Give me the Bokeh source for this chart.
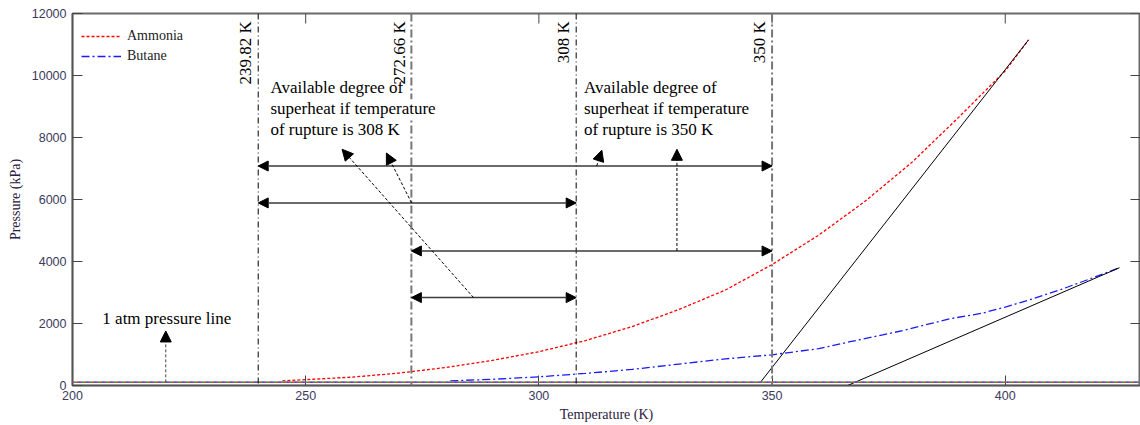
import math
from bokeh.plotting import figure
from bokeh.models import (Span, Label, Arrow, NormalHead, FixedTicker,
                          Range1d, Legend, LegendItem, ColumnDataSource)
from bokeh.embed import file_html
from bokeh.resources import INLINE

# Saturation pressure curves (Temperature K, Pressure kPa)
ammonia_T = [245, 250, 260, 270, 280, 290, 300, 310, 320, 330, 340, 350, 360, 370, 380, 390, 400, 405]
ammonia_P = [150, 190, 270, 400, 580, 810, 1090, 1450, 1900, 2450, 3080, 3900, 4850, 5950, 7200, 8650, 10150, 11150]

butane_T = [281, 290, 300, 310, 320, 330, 340, 350, 360, 367, 378, 388, 395, 400, 406, 412, 418, 424.5]
butane_P = [150, 200, 280, 390, 520, 690, 860, 990, 1190, 1420, 1770, 2150, 2330, 2530, 2800, 3100, 3430, 3800]

# Straight tangent lines near the critical points
tangent_ammonia_T = [347.5, 405.0]
tangent_ammonia_P = [101.325, 11150]
tangent_butane_T = [366.2, 424.5]
tangent_butane_P = [0, 3800]

# Boiling points and rupture temperatures
marker_T = [239.82, 272.66, 308, 350]
marker_labels = ["239.82 K", "272.66 K", "308 K", "350 K"]

# Superheat ranges (double-headed arrows)
range_start_T = [239.82, 239.82, 272.66, 272.66]
range_end_T = [350, 308, 350, 308]
range_P = [7080, 5890, 4340, 2835]

# Leader arrows from the ranges to the notes
leader_base_T = [286.0, 272.7, 312.4, 329.6]
leader_base_P = [2835, 5890, 7080, 4340]
leader_tip_T = [257.8, 267.3, 313.5, 329.6]
leader_tip_P = [7620, 7500, 7590, 7620]

ATM_KPA = 101.325
atm_arrow_T = 220
atm_arrow_tip_P = 1760

note_308 = ["Available degree of", "superheat if temperature", "of rupture is 308 K"]
note_350 = ["Available degree of", "superheat if temperature", "of rupture is 350 K"]
note_x = [242.44, 309.66]
note_line_P = [9603, 8926, 8248]
atm_note = "1 atm pressure line"
atm_note_x, atm_note_P = 206.4, 2161
marker_label_P = 11750
marker_label_gap = 0.6   # K, gap between a marker line and its rotated label

x_ticks = [200, 250, 300, 350, 400]
y_ticks = [0, 2000, 4000, 6000, 8000, 10000, 12000]
T_MIN, T_MAX = 200, 429
P_MIN, P_MAX = 0, 12000

SERIF = "Liberation Serif"
SANS = "Liberation Sans"
TICK_COLOR = "#3b3a5c"
AXIS_COLOR = "#555555"

p = figure(width=1140, height=425, x_range=Range1d(T_MIN, T_MAX), y_range=Range1d(P_MIN, P_MAX),
           output_backend="svg", toolbar_location=None,
           min_border_left=72, min_border_right=0, min_border_top=13, min_border_bottom=40,
           x_axis_label="Temperature (K)", y_axis_label="Pressure (kPa)")
p.outline_line_color = "#6a6a6a"
p.outline_line_width = 2
p.grid.visible = False
p.background_fill_color = "white"
p.border_fill_color = "white"

for ax, ticks in ((p.xaxis[0], x_ticks), (p.yaxis[0], y_ticks)):
    ax.ticker = FixedTicker(ticks=ticks)
    ax.major_tick_in = 10
    ax.major_tick_out = 0
    ax.minor_tick_in = 0
    ax.minor_tick_out = 0
    ax.major_tick_line_color = "#444444"
    ax.axis_line_color = AXIS_COLOR
    ax.axis_line_width = 1.5
    ax.major_label_text_font = SANS
    ax.major_label_text_font_size = "12.5px"
    ax.major_label_text_color = TICK_COLOR
    ax.axis_label_text_font = SERIF
    ax.axis_label_text_font_size = "14px"
    ax.axis_label_text_font_style = "normal"
    ax.axis_label_text_color = "#2a2040"

p.xaxis[0].major_label_standoff = 5
p.xaxis[0].axis_label_standoff = 4
p.yaxis[0].major_label_standoff = 6
p.yaxis[0].axis_label_standoff = 6

# Inward tick marks on the top and right edges of the frame
p.ray(x=x_ticks, y=[P_MAX] * len(x_ticks), length=10, angle=-math.pi / 2,
      length_units="screen", line_color="#444444", line_width=1)
p.ray(x=[T_MAX] * len(y_ticks), y=y_ticks, length=10, angle=math.pi,
      length_units="screen", line_color="#444444", line_width=1)

# 1 atm line drawn as a multicoloured dotted line
p.add_layout(Span(location=ATM_KPA, dimension="width", line_color="#22aa22", line_width=1.5))
for col, off in (("#dd22dd", 0), ("#2255ff", 2), ("#ff3333", 4)):
    p.add_layout(Span(location=ATM_KPA, dimension="width", line_color=col, line_width=1.5,
                      line_dash="2 6", line_dash_offset=off))

# Saturation curves
r_amm = p.line(ammonia_T, ammonia_P, line_color="#ff0000", line_width=1.3, line_dash="3 2")
r_but = p.line(butane_T, butane_P, line_color="#1a1aff", line_width=1.3, line_dash="8 3 2 3")
p.line(tangent_ammonia_T, tangent_ammonia_P, line_color="black", line_width=1)
p.line(tangent_butane_T, tangent_butane_P, line_color="black", line_width=1)

# Vertical temperature markers
for i, t in enumerate(marker_T):
    if i in (1, 3):
        p.add_layout(Span(location=t, dimension="height", line_color="#777777",
                          line_width=2, line_dash="8 3 2 3"))
    else:
        p.add_layout(Span(location=t, dimension="height", line_color="black",
                          line_width=1, line_dash="6 3 1 3"))

# Superheat ranges
ranges = ColumnDataSource(dict(x0=range_start_T, x1=range_end_T, y=range_P))
p.add_layout(Arrow(source=ranges, x_start="x0", x_end="x1", y_start="y", y_end="y",
                   line_color="#3a3a3a", line_width=1.5,
                   start=NormalHead(size=10, fill_color="black", line_color="black", line_width=1),
                   end=NormalHead(size=10, fill_color="black", line_color="black", line_width=1)))

leaders = ColumnDataSource(dict(x0=leader_base_T, y0=leader_base_P, x1=leader_tip_T, y1=leader_tip_P))
p.add_layout(Arrow(source=leaders, x_start="x0", y_start="y0", x_end="x1", y_end="y1",
                   line_color="black", line_width=1, line_dash="3 2",
                   end=NormalHead(size=11, fill_color="black", line_color="black", line_width=1)))

p.add_layout(Arrow(x_start=atm_arrow_T, y_start=ATM_KPA, x_end=atm_arrow_T, y_end=atm_arrow_tip_P,
                   line_color="#444444", line_width=1, line_dash="3 2",
                   end=NormalHead(size=11, fill_color="black", line_color="black", line_width=1)))

# Notes; the middle line of the first note masks the marker line behind it
for lines, x in ((note_308, note_x[0]), (note_350, note_x[1])):
    for j, (txt, yv) in enumerate(zip(lines, note_line_P)):
        bg = "white" if (x == note_x[0] and j == 1) else None
        p.add_layout(Label(x=x, y=yv, text=txt, text_align="left", text_baseline="middle",
                           text_font=SERIF, text_font_size="17px", text_color="black",
                           background_fill_color=bg))

p.add_layout(Label(x=atm_note_x, y=atm_note_P, text=atm_note, text_align="left",
                   text_baseline="middle", text_font=SERIF, text_font_size="17px",
                   text_color="black"))

# Rotated labels of the marker lines
for t, txt in zip(marker_T, marker_labels):
    p.add_layout(Label(x=t - marker_label_gap, y=marker_label_P, text=txt, angle=math.pi / 2,
                       text_align="right", text_baseline="bottom",
                       text_font=SERIF, text_font_size="17px", text_color="black"))

legend = Legend(items=[LegendItem(label="Ammonia", renderers=[r_amm]),
                       LegendItem(label="Butane", renderers=[r_but])],
                location=(9, 319), border_line_color=None, background_fill_alpha=0,
                label_text_font=SERIF, label_text_font_size="14px", label_text_color="#222222",
                glyph_width=40, glyph_height=20, label_height=20, spacing=0,
                margin=0, padding=7, label_standoff=6)
p.add_layout(legend)

open("out.html", "w").write(file_html(p, INLINE))
